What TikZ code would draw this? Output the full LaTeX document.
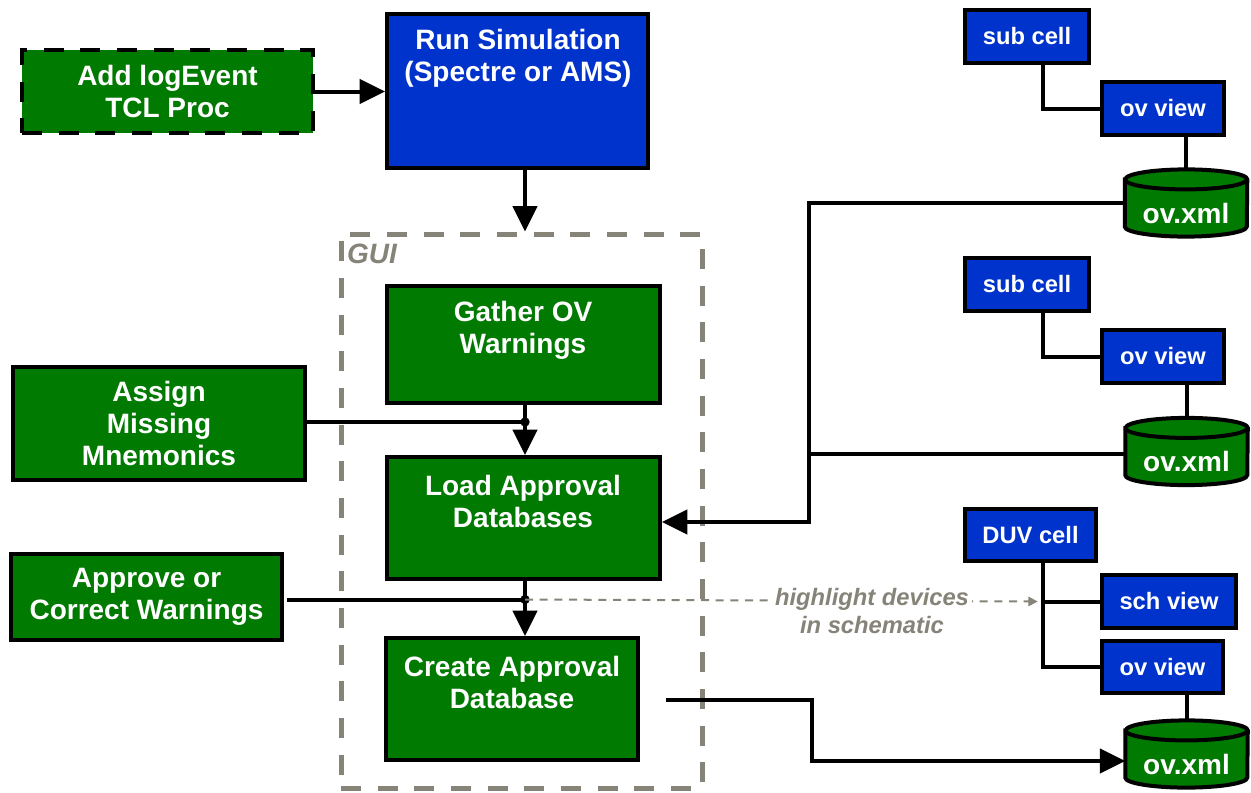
\documentclass[tikz,border=0pt]{standalone}
\usepackage{fontspec}
\setmainfont{Liberation Sans}
\usetikzlibrary{arrows.meta}
\definecolor{dgreen}{RGB}{0,122,0}
\definecolor{dblue}{RGB}{0,51,204}
\definecolor{dgray}{RGB}{134,131,120}
\begin{document}
\begin{tikzpicture}[x=0.75pt,y=-0.75pt,
  big/.style={text=white,font=\fontsize{21}{24}\selectfont\bfseries,align=center},
  small/.style={text=white,font=\fontsize{17.8}{21}\selectfont\bfseries,align=center},
  gbox/.style={draw=black,line width=3pt,fill=dgreen,inner sep=0pt},
  bbox/.style={draw=black,line width=3pt,fill=dblue,inner sep=0pt},
  dbox/.style={draw=black,line width=3pt,fill=dgreen,inner sep=0pt,dash pattern=on 15pt off 12.5pt},
  guibox/.style={draw=dgray,line width=3.75pt,inner sep=0pt,dash pattern=on 15pt off 12.5pt},
  cylholder/.style={inner sep=0pt,minimum width=91.5pt,minimum height=50pt},
  conn/.style={line width=3pt},
  arr/.style={line width=3pt,-{Triangle[length=19pt,width=18pt]}},
  hl/.style={draw=dgray,line width=1.5pt,dash pattern=on 6pt off 5pt,-{Triangle[length=7pt,width=7pt]}},
  gtxt/.style={text=dgray,font=\fontsize{17.8}{21}\selectfont\bfseries\itshape,align=center},
  dotj/.style={fill=black}
]
\useasboundingbox (0,0) rectangle (1251,792);

% GUI frame
\node[guibox,minimum width=270.75pt,minimum height=415.5pt] (gui) at (521.5,511) {};
\node[gtxt,font=\fontsize{21}{24}\selectfont\bfseries\itshape] (guilbl) at (372,254) {GUI};

% main boxes
\node[dbox,minimum width=218.25pt,minimum height=62.25pt,big] (add) at (167.5,91.5) {Add logEvent\\TCL Proc};
\node[bbox,minimum width=195.75pt,minimum height=115.5pt] (run) at (517.5,91) {};
\node[big] (runT) at (518,58) {Run Simulation\\(Spectre or AMS)};
\node[gbox,minimum width=204.75pt,minimum height=87.75pt] (gather) at (523.5,344) {};
\node[big] (gatherT) at (523,330) {Gather OV\\Warnings};
\node[gbox,minimum width=204.75pt,minimum height=91.5pt] (load) at (523.5,518) {};
\node[big] (loadT) at (523,501) {Load Approval\\Databases};
\node[gbox,minimum width=189pt,minimum height=91.5pt] (create) at (512,699) {};
\node[big] (createT) at (512,682) {Create Approval\\Database};
\node[gbox,minimum width=219pt,minimum height=84.75pt,big] (assign) at (159,423.5) {Assign\\Missing\\Mnemonics};
\node[gbox,minimum width=203.25pt,minimum height=64.5pt,big] (approve) at (146.5,597) {Approve or\\Correct Warnings};

% right side boxes
\node[bbox,minimum width=93pt,minimum height=39.75pt,small] (sub1) at (1027,36.5) {sub cell};
\node[bbox,minimum width=91.5pt,minimum height=39.75pt,small] (ov1) at (1163,108.5) {ov view};
\node[bbox,minimum width=93pt,minimum height=39.75pt,small] (sub2) at (1027,284.5) {sub cell};
\node[bbox,minimum width=91.5pt,minimum height=39.75pt,small] (ov2) at (1163,356.5) {ov view};
\node[bbox,minimum width=98.25pt,minimum height=39pt,small] (duv) at (1030.5,535) {DUV cell};
\node[bbox,minimum width=100.5pt,minimum height=39.75pt,small] (sch) at (1169,601.5) {sch view};
\node[bbox,minimum width=90.75pt,minimum height=39pt,small] (ov3) at (1162.5,667) {ov view};

% cylinders
\node[cylholder] (x1) at (1186,203) {};
\node[cylholder] (x2) at (1186.5,451.5) {};
\node[cylholder] (x3) at (1186.5,754) {};
\foreach \c in {x1,x2,x3}{
  \draw[line width=3pt,fill=dgreen]
    ([yshift=-7.5pt]\c.north west) -- ([yshift=7.5pt]\c.south west)
    arc[start angle=180,end angle=360,x radius=45.75pt,y radius=7.5pt]
    -- ([yshift=-7.5pt]\c.north east)
    arc[start angle=0,end angle=180,x radius=45.75pt,y radius=7.5pt] -- cycle;
  \draw[line width=3pt] ([yshift=-7.5pt]\c.north west)
    arc[start angle=180,end angle=360,x radius=45.75pt,y radius=7.5pt];
}
\node[big] (x1T) at ([yshift=-7.5pt]x1.center) {ov.xml};
\node[big] (x2T) at ([yshift=-7.5pt]x2.center) {ov.xml};
\node[big] (x3T) at ([yshift=-7.5pt]x3.center) {ov.xml};

% right-side tree connectors
\draw[conn] ([xshift=12pt]sub1.south) |- (ov1.west);
\draw[conn] (x1.north |- ov1.south) -- (x1.north);
\draw[conn] ([xshift=12pt]sub2.south) |- (ov2.west);
\draw[conn] (x2.north |- ov2.south) -- (x2.north);
\coordinate (duvj) at ([xshift=9.4pt]duv.south |- sch.west);
\draw[conn] ([xshift=9.4pt]duv.south) |- (ov3.west);
\draw[conn] (duvj) -- (sch.west);
\draw[conn] (x3.north |- ov3.south) -- (x3.north);

% main flow
\coordinate (d1) at (525,422);
\coordinate (d2) at (525,599.5);
\draw[arr] (add.east) -- (add.east -| run.west);
\draw[arr] (run.south -| d1) -- (gui.north -| d1);
\draw[arr] (gather.south -| d1) -- (load.north -| d1);
\draw[conn] (assign.east |- d1) -- (d1);
\fill[dotj] (d1) circle[radius=3.5pt];
\draw[arr] (load.south -| d2) -- (create.north -| d2);
\draw[conn] ([xshift=2.25pt]approve.east |- d2) -- (d2);
\fill[dotj] (d2) circle[radius=3.5pt];

% highlight
\draw[hl] (d2) -- ([xshift=-4pt]duvj);
\node[gtxt,fill=white,inner sep=2pt] (hlT) at (872,611) {highlight devices\\in schematic};

% load databases from ov.xml
\coordinate (vb) at (809,522);
\coordinate (vj) at (809,454);
\draw[arr] (x1.west) -| (vb) -- (vb -| load.east);
\draw[conn] (x2.west |- vj) -- (vj);

% create to ov.xml
\coordinate (cb) at (812,700);
\coordinate (cc) at (812,761);
\draw[arr] ([xshift=19.5pt]create.east |- cb) -- (cb) -- (cc) -- (cc -| x3.west);
\end{tikzpicture}
\end{document}
